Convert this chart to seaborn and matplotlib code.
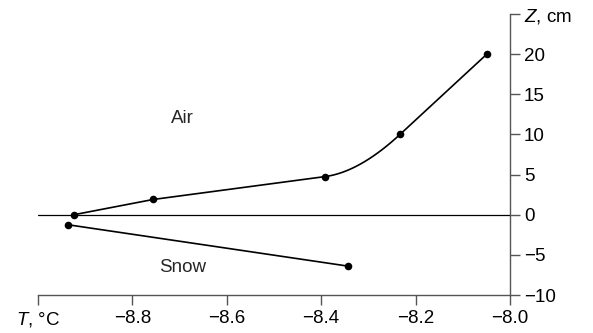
import numpy as np
import pandas as pd
import matplotlib
matplotlib.use("Agg")
import matplotlib.pyplot as plt
import seaborn as sns

# Data
air_T = [-8.924, -8.756, -8.392, -8.233, -8.049]
air_Z = [0.0, 1.9, 4.75, 10.0, 20.0]
snow_T = [-8.936, -8.343]
snow_Z = [-1.25, -6.4]

x_ticks = [-9.0, -8.8, -8.6, -8.4, -8.2, -8.0]
x_labels = ["$T$, °C", "−8.8", "−8.6", "−8.4", "−8.2", "−8.0"]
y_ticks = [-10, -5, 0, 5, 10, 15, 20, 25]
y_labels = ["−10", "−5", "0", "5", "10", "15", "20", "$Z$, cm"]

sns.set_style("ticks")
plt.rcParams["font.family"] = ["Liberation Sans", "DejaVu Sans"]
plt.rcParams["mathtext.fontset"] = "custom"
plt.rcParams["mathtext.it"] = "Liberation Sans:italic"
plt.rcParams["mathtext.rm"] = "Liberation Sans"

fig = plt.figure(figsize=(5.93, 3.33), dpi=100)
ax = fig.add_axes([0.064, 0.114, 0.796, 0.844])


def rounded_path(xs, ys, bend=2, n=40):
    """Polyline through the points; the segment starting at index `bend`
    is drawn as a quadratic Bezier tangent to its neighbouring segments."""
    k = (319 - 38) / 472  # aspect: y-units to x-units in screen space
    P = np.column_stack([np.array(xs) + 9.0, (np.array(ys) + 10.0) / 35.0 * k])
    a, b = P[bend], P[bend + 1]
    d1 = P[bend] - P[bend - 1]
    d2 = P[bend + 2] - P[bend + 1]
    # intersection of the two tangent lines
    M = np.column_stack([d1, -d2])
    s, _ = np.linalg.solve(M, b - a)
    c = a + s * d1
    t = np.linspace(0, 1, n)[:, None]
    bez = (1 - t) ** 2 * a + 2 * (1 - t) * t * c + t ** 2 * b
    out = np.vstack([P[:bend], bez, P[bend + 2:]])
    return out[:, 0] - 9.0, out[:, 1] / k * 35.0 - 10.0


cx, cy = rounded_path(air_T, air_Z)
curve = pd.DataFrame({"T": cx, "Z": cy})
sns.lineplot(data=curve, x="T", y="Z", sort=False, color="black", lw=1.2, ax=ax)

snow = pd.DataFrame({"T": snow_T, "Z": snow_Z})
sns.lineplot(data=snow, x="T", y="Z", sort=False, color="black", lw=1.2, ax=ax)

pts = pd.DataFrame({"T": air_T + snow_T, "Z": air_Z + snow_Z})
sns.scatterplot(data=pts, x="T", y="Z", color="black", s=30, edgecolor="black",
                linewidth=0, zorder=5, ax=ax)

ax.axhline(0, color="black", lw=0.9, zorder=1)

ax.text(-8.693, 12, "Air", fontsize=13.5, ha="center", va="center")
ax.text(-8.693, -6.6, "Snow", fontsize=13.5, ha="center", va="center")

ax.set_xlim(-9.0, -8.0)
ax.set_ylim(-10, 25)
ax.set_xticks(x_ticks)
ax.set_xticklabels(x_labels)
ax.set_yticks(y_ticks)
ax.set_yticklabels(y_labels)
ax.yaxis.tick_right()
ax.set_xlabel("")
ax.set_ylabel("")

for s in ["top", "left"]:
    ax.spines[s].set_visible(False)
for s in ["bottom", "right"]:
    ax.spines[s].set_color("#555555")
    ax.spines[s].set_linewidth(1.0)
ax.tick_params(axis="both", colors="#555555", labelcolor="black", labelsize=13.5,
               length=7, width=1.0, direction="out")
ax.tick_params(axis="x", pad=4)
ax.tick_params(axis="y", pad=3)

fig.savefig("out.png", dpi=100)
